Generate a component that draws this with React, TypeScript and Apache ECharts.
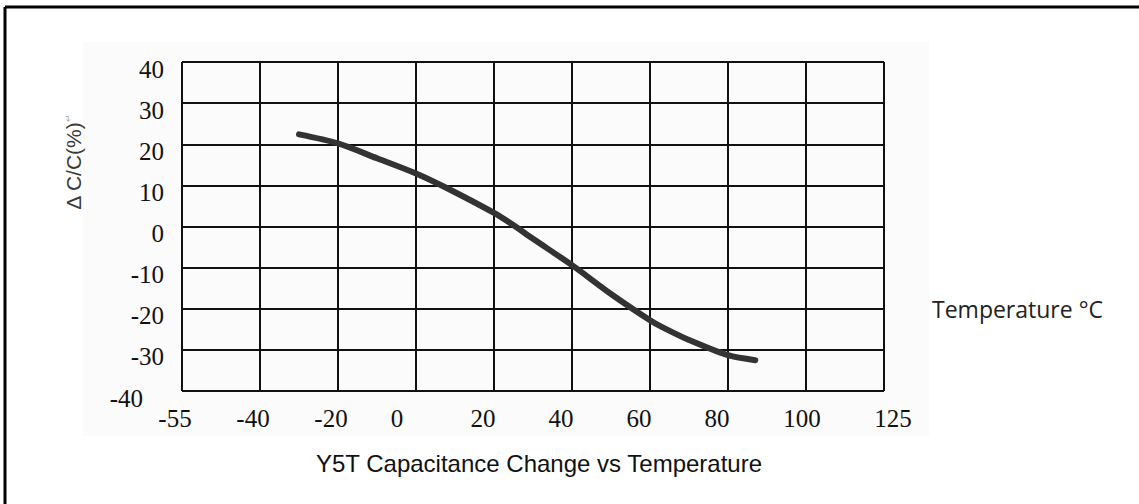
import React, { useEffect, useRef } from "react";
import * as echarts from "echarts";

// Temperature (°C) and capacitance change (%)
const temperatures = [-30, -20, -10, 0, 8, 20, 25, 30, 40, 50, 60, 63, 70, 80, 87];
const capChange = [22.4, 20.2, 16.6, 12.9, 9.3, 3.3, 0.3, -3.0, -9.4, -16.4, -22.8, -24.4, -27.6, -31.3, -32.5];

// Tick labels as printed on the chart (x axis is drawn with equal spacing)
const xTickLabels = ["-55", "-40", "-20", "0", "20", "40", "60", "80", "100", "125"];
const yTickLabels = ["-40", "-30", "-20", "-10", "0", "10", "20", "30", "40"];

const X_MIN = -60;
const X_MAX = 120;
const X_STEP = 20;
const Y_MIN = -40;
const Y_MAX = 40;
const Y_STEP = 10;

const SERIF = "'Liberation Serif', 'Times New Roman', serif";
const SANS = "'Liberation Sans', Arial, sans-serif";
const TICK_FONT = 25;

export default function App() {
  const ref = useRef<HTMLDivElement>(null);

  useEffect(() => {
    if (!ref.current) return;
    const chart = echarts.init(ref.current, null, { renderer: "svg" });

    const tickStyle = (padding: number[]) => ({
      fontFamily: SERIF,
      fontSize: TICK_FONT,
      color: "#111",
      padding,
    });

    const option: any = {
      animation: false,
      backgroundColor: "#ffffff",
      title: {
        text: "Y5T Capacitance Change vs Temperature",
        left: 534,
        top: 446,
        textAlign: "center",
        textStyle: {
          fontFamily: SANS,
          fontSize: 24,
          fontWeight: "normal",
          color: "#111",
        },
      },
      graphic: [
        {
          type: "rect",
          silent: true,
          z: -10,
          shape: { x: 83, y: 42, width: 846, height: 394 },
          style: { fill: "#fbfbfb" },
        },
        {
          type: "line",
          silent: true,
          shape: { x1: 5, y1: 7, x2: 1139, y2: 7 },
          style: { stroke: "#000", lineWidth: 3 },
        },
        {
          type: "line",
          silent: true,
          shape: { x1: 5, y1: 7, x2: 5, y2: 504 },
          style: { stroke: "#000", lineWidth: 3 },
        },
        {
          type: "text",
          silent: true,
          x: 73,
          y: 162,
          rotation: Math.PI / 2,
          style: {
            text: "Δ C/C(%){s|↵}",
            fontFamily: SANS,
            fontSize: 21,
            fill: "#3a3a3a",
            align: "center",
            verticalAlign: "middle",
            rich: {
              s: { fontSize: 9, fill: "#aaa", padding: [0, 0, 10, 0] },
            },
          },
        },
        {
          type: "text",
          silent: true,
          x: 932,
          y: 309,
          style: {
            text: "Temperature °C",
            fontFamily: "'Open Sans', 'Noto Sans', sans-serif",
            fontSize: 23,
            fill: "#222",
            align: "left",
            verticalAlign: "middle",
          },
        },
      ],
      grid: {
        left: 182,
        top: 62,
        right: 255,
        bottom: 113,
        containLabel: false,
      },
      xAxis: {
        type: "value",
        min: X_MIN,
        max: X_MAX,
        interval: X_STEP,
        axisLine: { show: true, lineStyle: { color: "#111", width: 2 } },
        axisTick: { show: false },
        splitLine: { show: true, lineStyle: { color: "#111", width: 2 } },
        axisLabel: {
          margin: 15,
          fontFamily: SERIF,
          fontSize: TICK_FONT,
          color: "#111",
          formatter: (v: number) => {
            const idx = Math.round((v - X_MIN) / X_STEP);
            const t = xTickLabels[idx] ?? "";
            if (t === "0") return `{z|${t}}`;
            if (t === "100") return `{h|${t}}`;
            if (t === "125") return `{e|${t}}`;
            if (t === "-55" || t === "-40" || t === "-20") return `{n|${t}}`;
            return `{m|${t}}`;
          },
          rich: {
            n: tickStyle([0, 14, 0, 0]),
            m: tickStyle([0, 22, 0, 0]),
            z: tickStyle([0, 38, 0, 0]),
            h: tickStyle([0, 8, 0, 0]),
            e: tickStyle([0, 0, 0, 18]),
          },
        },
      },
      yAxis: {
        type: "value",
        min: Y_MIN,
        max: Y_MAX,
        interval: Y_STEP,
        axisLine: { show: true, lineStyle: { color: "#111", width: 2 } },
        axisTick: { show: false },
        splitLine: { show: true, lineStyle: { color: "#111", width: 2 } },
        axisLabel: {
          margin: 18,
          fontFamily: SERIF,
          fontSize: TICK_FONT,
          color: "#111",
          formatter: (v: number) => {
            const idx = Math.round((v - Y_MIN) / Y_STEP);
            const t = yTickLabels[idx] ?? "";
            return idx === 0 ? `{lo|${t}}` : `{n|${t}}`;
          },
          rich: {
            n: tickStyle([14, 0, 0, 0]),
            lo: tickStyle([14, 21, 0, 0]),
          },
        },
      },
      series: [
        {
          type: "line",
          data: temperatures.map((t, i) => [t, capChange[i]]),
          smooth: 0.3,
          showSymbol: false,
          symbol: "none",
          lineStyle: { color: "#333", width: 6, cap: "round", join: "round" },
          z: 5,
        },
      ],
    };

    chart.setOption(option);
    return () => chart.dispose();
  }, []);

  return (
    <div
      ref={ref}
      style={{ position: "fixed", left: 0, top: 0, width: 1139, height: 504 }}
    />
  );
}
